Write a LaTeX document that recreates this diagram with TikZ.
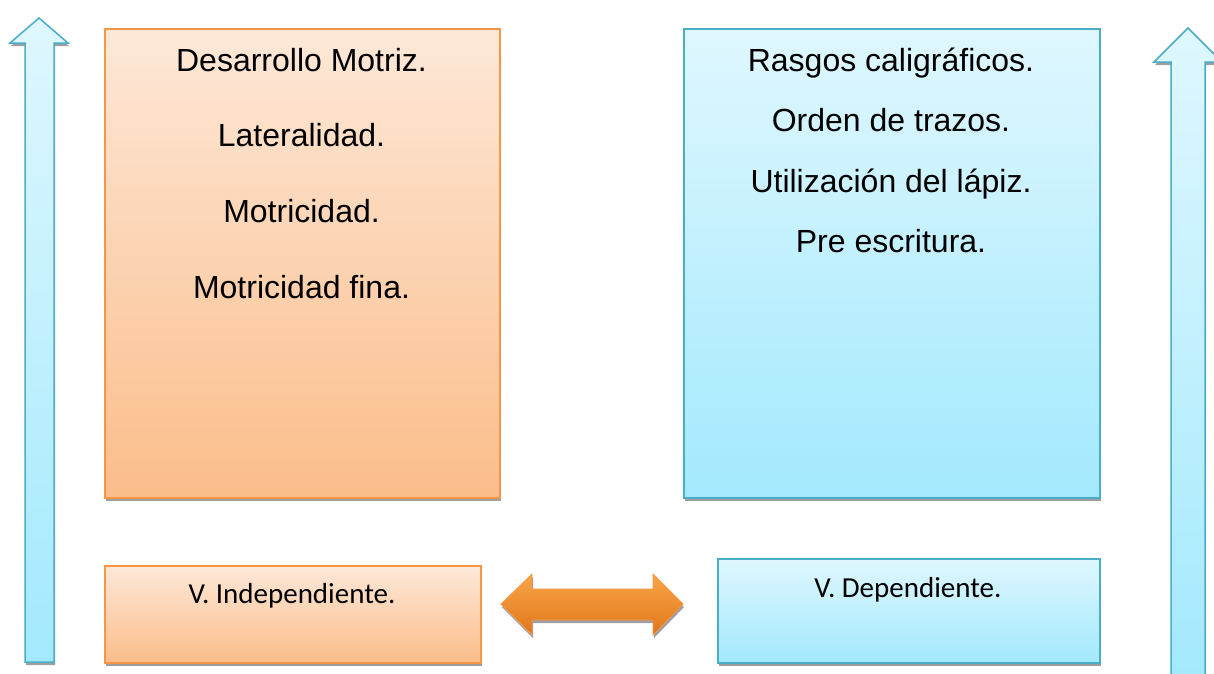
\documentclass[tikz,border=0pt]{standalone}
\usepackage{fontspec}
\setmainfont{Liberation Sans}
\newfontfamily\labelfont{Carlito}
\usetikzlibrary{positioning,shadows}

\definecolor{orangeline}{HTML}{F79646}
\definecolor{orangetop}{HTML}{FDE8D8}
\definecolor{orangebot}{HTML}{FBBD8A}
\definecolor{blueline}{HTML}{4BACC6}
\definecolor{bluetop}{HTML}{DFF7FE}
\definecolor{bluebot}{HTML}{A3E9FD}
\definecolor{linktop}{HTML}{F9A647}
\definecolor{linkbot}{HTML}{DF761B}

\begin{document}
\begin{tikzpicture}[x=1pt,y=-1pt]
    \tikzset{
        shadowed/.style = {drop shadow={shadow xshift=1pt, shadow yshift=-3pt, fill=black!38, opacity=1}},
        box/.style = {rectangle, draw, line width=1.5pt, anchor=north west, inner sep=0pt, shadowed},
        orangebox/.style = {box, draw=orangeline, top color=orangetop, bottom color=orangebot},
        bluebox/.style = {box, draw=blueline, top color=bluetop, bottom color=bluebot},
        bigtext/.style = {anchor=base, inner sep=0pt, font=\fontsize{32}{38}\selectfont},
        smalltext/.style = {anchor=base, inner sep=0pt, font=\labelfont\fontsize{29}{35}\selectfont},
        upshape/.style = {draw=blueline, line width=1.5pt, top color=bluetop, bottom color=bluebot, shadowed},
        linkshape/.style = {draw=orangeline, line width=0.8pt, top color=linktop, bottom color=linkbot, shadowed},
    }
    \useasboundingbox (0,0) rectangle (1214,673);

    % arrows at the sides
    \path[upshape] (39,18) -- (68,43) -- (54,43) -- (54,662) -- (25,662) -- (25,43) -- (10,43) -- cycle;
    \path[upshape] (1188,28) -- (1222,62) -- (1205,62) -- (1205,690) -- (1171,690) -- (1171,62) -- (1154,62) -- cycle;

    % big boxes
    \node [orangebox, minimum width=395, minimum height=469] (indep) at (104,28) {};
    \node [bluebox, minimum width=416, minimum height=469] (dep) at (683,28) {};

    \foreach \txt [count=\i] in {Desarrollo Motriz., Lateralidad., Motricidad., Motricidad fina.}
        \node [bigtext] (ind\i) at (301.5, {71+75.7*(\i-1)}) {\txt};
    \foreach \txt [count=\i] in {Rasgos caligráficos., Orden de trazos., Utilización del lápiz., Pre escritura.}
        \node [bigtext] (dep\i) at (891, {71+60.5*(\i-1)}) {\txt};

    % small boxes
    \node [orangebox, minimum width=376, minimum height=97] (vindep) at (104,565) {};
    \node [bluebox, minimum width=382, minimum height=104] (vdep) at (717,558) {};
    \node [smalltext] (vindeptxt) at (292,603) {V. Independiente.};
    \node [smalltext] (vdeptxt) at (908,597) {V. Dependiente.};

    % link between them
    \path[linkshape] (501,604) -- (532,574) -- (532,589) -- (653,589) -- (653,574) -- (683,604)
        -- (653,635) -- (653,620) -- (532,620) -- (532,635) -- cycle;
\end{tikzpicture}
\end{document}
